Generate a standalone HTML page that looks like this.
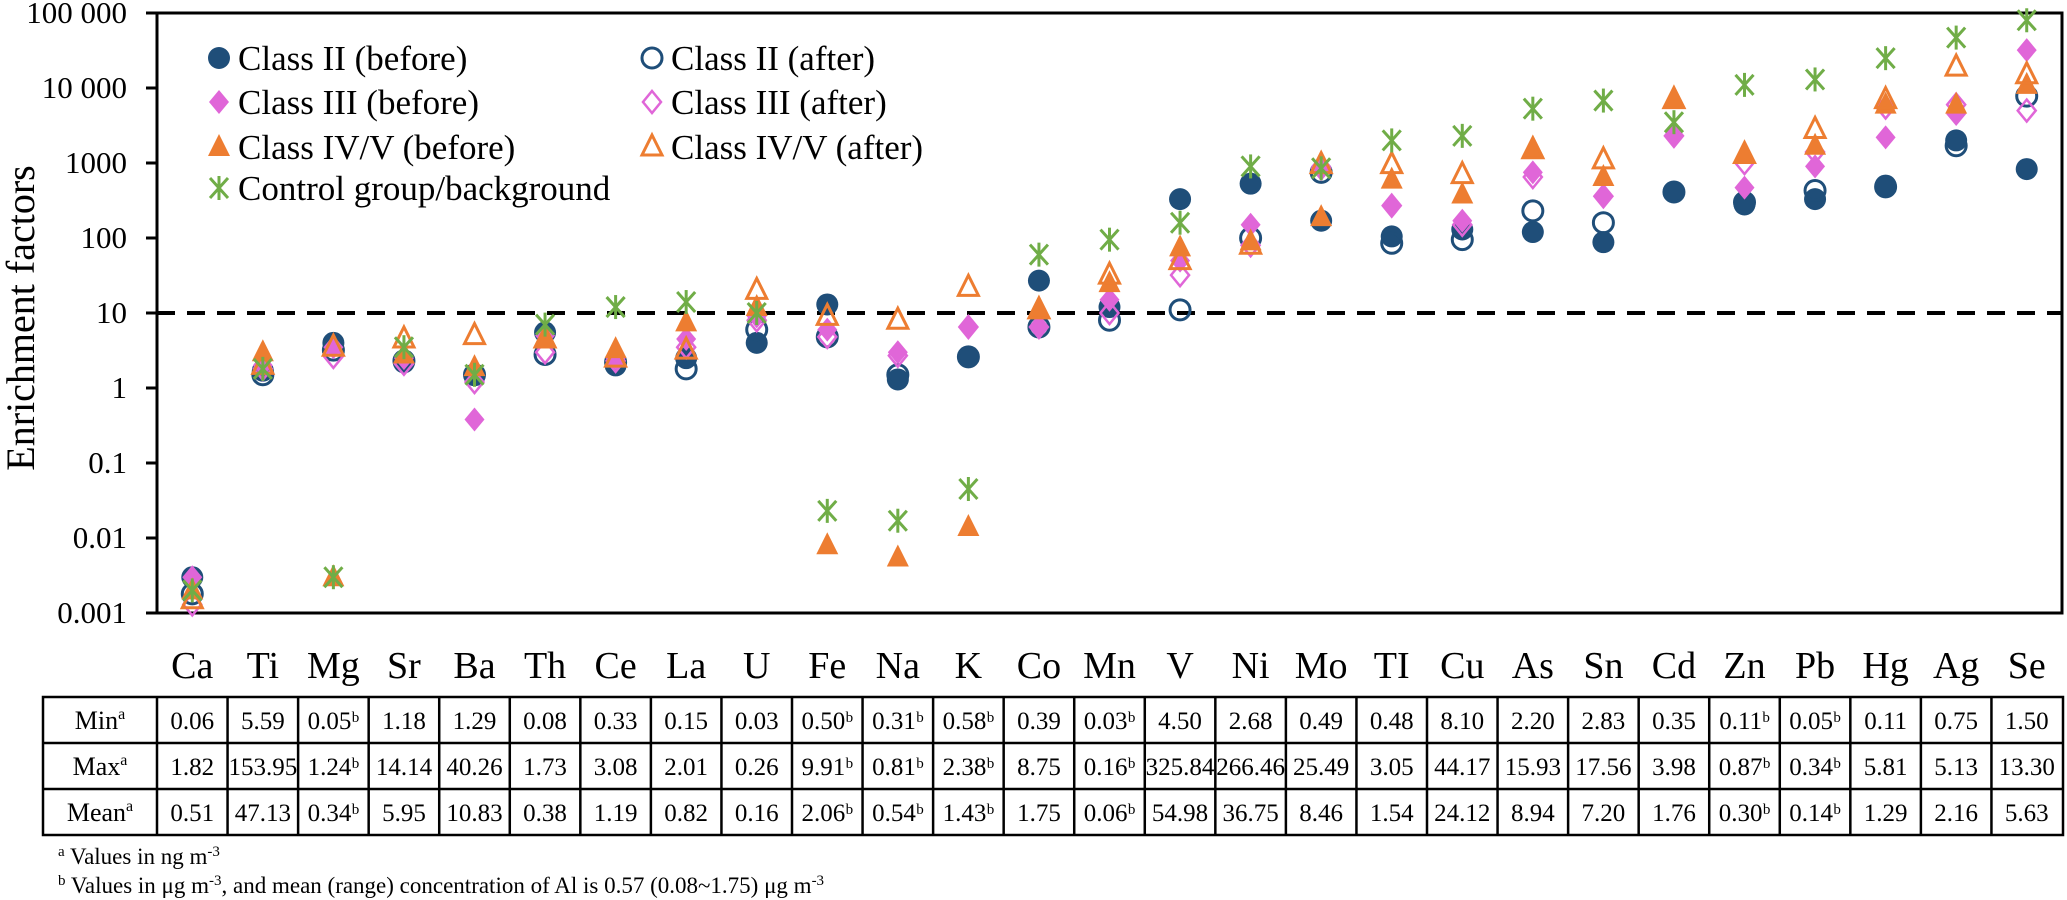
<!DOCTYPE html>
<html><head><meta charset="utf-8"><style>
html,body{margin:0;padding:0;background:#fff;}
svg{display:block;font-family:"Liberation Serif",serif;}
</style></head><body>
<svg id="chart" width="2067" height="900" viewBox="0 0 2067 900" xmlns="http://www.w3.org/2000/svg">
<g id="axes"></g><g id="marks"></g><g id="legend"></g><g id="table"></g>
</svg>
<script>
const elements=["Ca","Ti","Mg","Sr","Ba","Th","Ce","La","U","Fe","Na","K","Co","Mn","V","Ni","Mo","TI","Cu","As","Sn","Cd","Zn","Pb","Hg","Ag","Se"];
const class2Before=[0.003,1.7,4,2.2,1.5,5.5,2,2.5,4,13,1.3,2.6,27,12,330,530,170,105,130,120,88,410,280,330,500,2000,830];
const class2After=[0.0018,1.5,3.2,2.3,1.5,2.8,2.2,1.8,6,4.8,1.5,2.6,6.5,8,11,100,750,85,95,230,160,410,300,430,480,1700,7800];
const class3Before=[0.003,2,3.5,2.5,0.38,5,2.5,4.5,9,6,3,6.5,6.5,15,50,150,900,270,170,750,360,2300,470,900,2200,4500,32000];
const class3After=[0.0013,1.8,2.6,2.1,1.2,3,2.3,3.5,8,4.8,2.7,6.5,6.5,10,32,80,850,270,150,650,360,2300,1000,1400,5500,6000,5000];
const class45Before=[0.002,3,0.003,2.8,1.9,4.5,3.3,7.5,12,0.008,0.0055,0.014,11,25,75,90,190,600,380,1600,650,7000,1300,1700,6000,6000,11000];
const class45After=[0.0015,2,3.5,4.5,5,4.5,2.5,3.2,20,9,8,22,11,32,50,80,950,950,700,1500,1100,7000,1300,2800,7000,19000,15000];
const control=[0.002,1.8,0.003,3.5,1.5,7,12,14,10,0.023,0.017,0.045,60,95,160,900,850,2000,2300,5300,6800,3500,11000,13000,25000,47000,80000];
const yTicks=[0.001,0.01,0.1,1,10,100,1000,10000,100000];
const yTickLabels=["0.001","0.01","0.1","1","10","100","1000","10 000","100 000"];
const rowLabels=["Min","Max","Mean"];
const minVals=["0.06","5.59","0.05ᵇ","1.18","1.29","0.08","0.33","0.15","0.03","0.50ᵇ","0.31ᵇ","0.58ᵇ","0.39","0.03ᵇ","4.50","2.68","0.49","0.48","8.10","2.20","2.83","0.35","0.11ᵇ","0.05ᵇ","0.11","0.75","1.50"];
const maxVals=["1.82","153.95","1.24ᵇ","14.14","40.26","1.73","3.08","2.01","0.26","9.91ᵇ","0.81ᵇ","2.38ᵇ","8.75","0.16ᵇ","325.84","266.46","25.49","3.05","44.17","15.93","17.56","3.98","0.87ᵇ","0.34ᵇ","5.81","5.13","13.30"];
const meanVals=["0.51","47.13","0.34ᵇ","5.95","10.83","0.38","1.19","0.82","0.16","2.06ᵇ","0.54ᵇ","1.43ᵇ","1.75","0.06ᵇ","54.98","36.75","8.46","1.54","24.12","8.94","7.20","1.76","0.30ᵇ","0.14ᵇ","1.29","2.16","5.63"];

const NS="http://www.w3.org/2000/svg";
const L=157,R=2062,T=13,B=613;
const colW=(R-L)/elements.length;
const x=i=>L+colW*(i+0.5);
const y=v=>B-(Math.log10(v)+3)/8*(B-T);
function mk(tag,attrs,parent,text){const e=document.createElementNS(NS,tag);for(const k in attrs)e.setAttribute(k,attrs[k]);if(text!==undefined)e.textContent=text;parent.appendChild(e);return e;}
const axes=document.getElementById('axes'),marks=document.getElementById('marks'),legend=document.getElementById('legend'),table=document.getElementById('table');

let e=mk('rect',{x:L,y:T,width:R-L,height:B-T,fill:'none',stroke:'#000','stroke-width':3},axes);


yTicks.forEach((t,i)=>{
 let tk=mk('line',{x1:L-11,x2:L,y1:y(t),y2:y(t),stroke:'#000','stroke-width':3},axes);
 
 
 let tl=mk('text',{x:L-30,y:y(t)+10,'text-anchor':'end','font-size':31},axes,yTickLabels[i]);
 
 
});
e=mk('text',{x:0,y:0,'text-anchor':'middle','font-size':40,transform:'translate(34,'+((T+B)/2+5)+') rotate(-90)'},axes,'Enrichment  factors');


e=mk('line',{x1:L,x2:R,y1:y(10),y2:y(10),stroke:'#000','stroke-width':4,'stroke-dasharray':'18 12'},axes);


elements.forEach((el,i)=>{
 let t=mk('text',{x:x(i),y:678,'text-anchor':'middle','font-size':38},axes,el);
 
 
});

const NAVY='#1F4E79',PINK='#E066D8',ORANGE='#ED7D31',GREEN='#70AD47';
function marker(kind,cx,cy,parent){
 const g=mk('g',{},parent);
 if(kind==='circleF')mk('circle',{cx,cy,r:11,fill:NAVY},g);
 else if(kind==='circleO')mk('circle',{cx,cy,r:10,fill:'none',stroke:NAVY,'stroke-width':3},g);
 else if(kind==='diamondF')mk('polygon',{points:`${cx},${cy-12} ${cx+10},${cy} ${cx},${cy+12} ${cx-10},${cy}`,fill:PINK},g);
 else if(kind==='diamondO')mk('polygon',{points:`${cx},${cy-11} ${cx+9},${cy} ${cx},${cy+11} ${cx-9},${cy}`,fill:'none',stroke:PINK,'stroke-width':2.5},g);
 else if(kind==='triF')mk('polygon',{points:`${cx},${cy-13} ${cx+11},${cy+9} ${cx-11},${cy+9}`,fill:ORANGE},g);
 else if(kind==='triO')mk('polygon',{points:`${cx},${cy-12} ${cx+10},${cy+8} ${cx-10},${cy+8}`,fill:'none',stroke:ORANGE,'stroke-width':3},g);
 else if(kind==='star'){
  mk('line',{x1:cx,y1:cy-12,x2:cx,y2:cy+12,stroke:GREEN,'stroke-width':3},g);
  mk('line',{x1:cx-9,y1:cy-10,x2:cx+9,y2:cy+10,stroke:GREEN,'stroke-width':3},g);
  mk('line',{x1:cx+9,y1:cy-10,x2:cx-9,y2:cy+10,stroke:GREEN,'stroke-width':3},g);
 }
 return g;
}
const series=[
 {name:'Class II (before)',data:class2Before,kind:'circleF',id:'class2-before'},
 {name:'Class II (after)',data:class2After,kind:'circleO',id:'class2-after'},
 {name:'Class III (before)',data:class3Before,kind:'diamondF',id:'class3-before'},
 {name:'Class III (after)',data:class3After,kind:'diamondO',id:'class3-after'},
 {name:'Class IV/V (before)',data:class45Before,kind:'triF',id:'class45-before'},
 {name:'Class IV/V (after)',data:class45After,kind:'triO',id:'class45-after'},
 {name:'Control group/background',data:control,kind:'star',id:'control'}
];
series.forEach(s=>{
 s.data.forEach((v,i)=>{
  if(v==null)return;
  const m=marker(s.kind,x(i),y(v),marks);
  
  
 });
});
const legPos=[[219,58],[652,58],[219,102],[652,102],[219,147],[652,147],[219,188]];
series.forEach((s,i)=>{
 const [lx,ly]=legPos[i];
 const g=mk('g',{},legend);
 
 
 marker(s.kind,lx,ly,g);
 mk('text',{x:lx+19,y:ly+12,'font-size':35},g,s.name);
});

// table
const TL=43,TT=697,RH=46;
const rows=[minVals,maxVals,meanVals];
e=mk('rect',{x:TL,y:TT,width:R+1-TL,height:RH*3,fill:'none',stroke:'#000','stroke-width':2.5},table);


for(let r=1;r<3;r++)mk('line',{x1:TL,x2:R+1,y1:TT+RH*r,y2:TT+RH*r,stroke:'#000','stroke-width':2.5},table);
for(let c=0;c<=elements.length-1;c++)mk('line',{x1:L+colW*c,x2:L+colW*c,y1:TT,y2:TT+RH*3,stroke:'#000','stroke-width':2.5},table);
rows.forEach((vals,r)=>{
 const cy=TT+RH*r+RH/2+9;
 const lab=mk('text',{x:(TL+L)/2,y:cy,'text-anchor':'middle','font-size':26},table);
 
 
 lab.appendChild(document.createTextNode(rowLabels[r]));
 mk('tspan',{'font-size':16,dy:-10},lab,'a');
 vals.forEach((v,i)=>{
  const t=mk('text',{x:x(i),y:cy,'text-anchor':'middle','font-size':25},table,v);
  
  
 });
});
e=mk('text',{x:58,y:864,'font-size':23},table);


e.innerHTML='<tspan font-size="15" dy="-8">a</tspan><tspan dy="8"> Values in ng m</tspan><tspan font-size="15" dy="-8">-3</tspan>';
e=mk('text',{x:58,y:893,'font-size':23},table);


e.innerHTML='<tspan font-size="15" dy="-8">b</tspan><tspan dy="8"> Values in μg m</tspan><tspan font-size="15" dy="-8">-3</tspan><tspan dy="8">, and mean (range) concentration of Al is 0.57 (0.08~1.75) μg m</tspan><tspan font-size="15" dy="-8">-3</tspan>';
</script>
</body></html>
